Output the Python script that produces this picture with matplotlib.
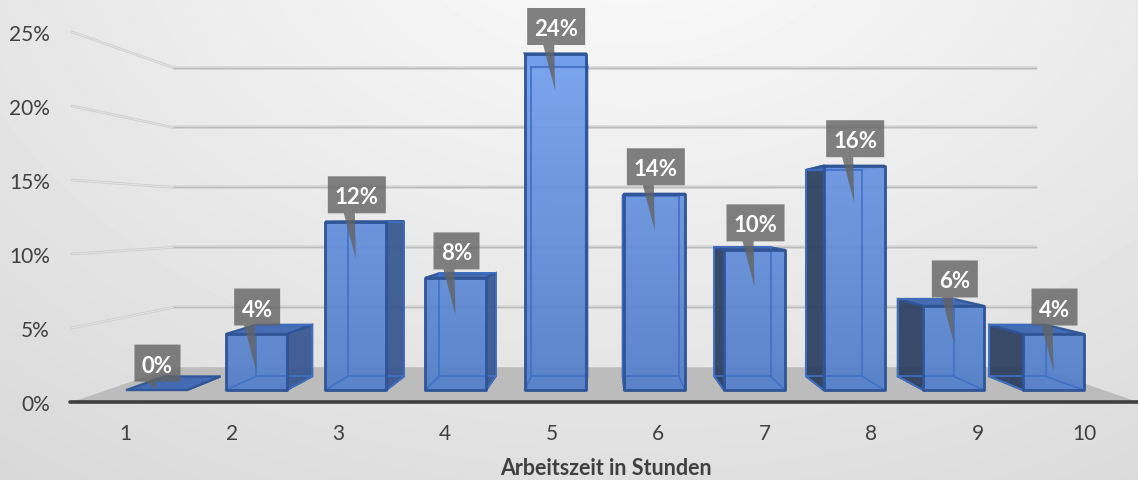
#coding:utf-8

import numpy as np
import matplotlib
matplotlib.use('Agg')
import matplotlib.pyplot as plt
from matplotlib.patches import Polygon

plt.rcParams['font.family'] = ['Lato', 'DejaVu Sans']

categories = ['1', '2', '3', '4', '5', '6', '7', '8', '9', '10']
values = [0, 4, 12, 8, 24, 14, 10, 16, 6, 4]
y_ticks = [0, 5, 10, 15, 20, 25]
x_title = 'Arbeitszeit in Stunden'

# perspective of the 3d scene, in figure pixels
AXIS_LEFT, AXIS_RIGHT, AXIS_Y = 72, 1138, 403
EYE_X, EYE_Y = 605, 220
WALL_UNIT, BAR_UNIT = 14.8, 15.0    # pixels per percent at depth 1
DEPTH_WALL, DEPTH_FRONT, DEPTH_BACK = 0.81, 0.935, 0.86
BAR_HALF = 30.5                     # half bar width on screen

TEXT_COL = '#404040'
EDGE_COL = '#2f5597'
INNER_COL = '#4070c4'


def project(x, height, depth):
    # x in axis pixels, height in pixels above the floor
    return EYE_X + (x - EYE_X) * depth, EYE_Y + (AXIS_Y - EYE_Y - height) * depth


def cat_x(i):
    step = (AXIS_RIGHT - AXIS_LEFT) / len(categories)
    return AXIS_LEFT + step * (i + 0.5)


fig = plt.figure(figsize=(11.38, 4.81), dpi=100)
ax = fig.add_axes([0, 0, 1, 1])

# background
yy, xx = np.mgrid[0:481, 0:1138]
r = np.sqrt(((xx - 630) / 1000.0) ** 2 + ((yy + 100) / 700.0) ** 2)
bg = np.clip(0.989 - 0.135 * r, 0.82, 1)
ax.imshow(bg, cmap='gray', vmin=0, vmax=1, extent=[0, 1138, 481, 0], aspect='auto', zorder=0)

# light from above on the front faces
shade = np.linspace(0, 1, 481)[:, None, None]
top_rgb = np.array([118, 162, 240]) / 255
bottom_rgb = np.array([86, 128, 202]) / 255
front_img = top_rgb * (1 - (shade - 0.1) / 0.7) + bottom_rgb * ((shade - 0.1) / 0.7)
front_img = np.clip(front_img, 0, 1)

# floor
floor = [(AXIS_LEFT, 0, 1), (AXIS_RIGHT, 0, 1), (AXIS_RIGHT, 0, DEPTH_WALL), (AXIS_LEFT, 0, DEPTH_WALL)]
ax.add_patch(Polygon([project(*p) for p in floor], fc='#bcbcbc', ec='none', zorder=1))

# walls
for t in y_ticks:
    h = t * WALL_UNIT
    x0, y0 = project(AXIS_LEFT, h, 1)
    x1, y1 = project(AXIS_LEFT, h, DEPTH_WALL)
    x2, y2 = project(AXIS_RIGHT, h, DEPTH_WALL)
    if t > 0:
        ax.plot([x0, x1], [y0, y1], color='#d0d0d0', lw=2.0, zorder=2, solid_capstyle='round')
        ax.plot([x0, x1], [y0, y1], color='#e6e6e6', lw=0.6, zorder=2)
        ax.plot([x1, x2], [y1, y2], color='#d8d8d8', lw=2.6, zorder=2, solid_capstyle='butt')
        ax.plot([x1, x2], [y1, y2], color='#bdbdbd', lw=1.0, zorder=2, solid_capstyle='butt')
    ax.text(50, y0 + 2, '%d%%' % t, ha='right', va='center', fontsize=15, color=TEXT_COL, zorder=8)

ax.plot([AXIS_LEFT - 2, AXIS_RIGHT], [AXIS_Y, AXIS_Y], color='#3f3f3f', lw=2.6, zorder=3, solid_capstyle='round')

for i, lab in enumerate(categories):
    ax.text(cat_x(i), 434, lab, ha='center', va='center', fontsize=15, color=TEXT_COL, zorder=8)

ax.text(EYE_X + 1, 479, x_title, ha='center', va='bottom', fontsize=15.5, fontweight='bold', color=TEXT_COL, zorder=8)

# bars
for i, v in enumerate(values):
    xc = cat_x(i)
    half = BAR_HALF / DEPTH_FRONT
    h = v * BAR_UNIT
    fl, fr = xc - half, xc + half

    f_bl = project(fl, 0, DEPTH_FRONT)
    f_br = project(fr, 0, DEPTH_FRONT)
    f_tr = project(fr, h, DEPTH_FRONT)
    f_tl = project(fl, h, DEPTH_FRONT)
    b_bl = project(fl, 0, DEPTH_BACK)
    b_br = project(fr, 0, DEPTH_BACK)
    b_tr = project(fr, h, DEPTH_BACK)
    b_tl = project(fl, h, DEPTH_BACK)

    z = 4 + i * 0.01
    if b_tl[0] < f_tl[0] - 1:
        ax.add_patch(Polygon([f_bl, f_tl, b_tl, b_bl], fc='#2a3c5e', ec=EDGE_COL, lw=1.6, alpha=0.92, zorder=z))
    if b_tr[0] > f_tr[0] + 1:
        ax.add_patch(Polygon([f_br, f_tr, b_tr, b_br], fc='#34558f', ec=EDGE_COL, lw=1.6, alpha=0.92, zorder=z))
    ax.add_patch(Polygon([f_tl, f_tr, b_tr, b_tl], fc='#3d66b2', ec=EDGE_COL, lw=1.6, alpha=0.95, zorder=z))

    if v > 0:
        face = Polygon([f_bl, f_br, f_tr, f_tl], fc='none', ec='none', transform=ax.transData)
        ax.add_patch(face)
        img = ax.imshow(front_img, extent=[0, 1138, 481, 0], aspect='auto', alpha=0.95, zorder=z + 0.001)
        img.set_clip_path(face)

        # back edges seen through the front face
        for a, b in [(b_bl, b_br), (b_bl, b_tl), (b_br, b_tr), (b_tl, b_tr), (f_bl, b_bl), (f_br, b_br)]:
            ax.plot([a[0], b[0]], [a[1], b[1]], color=INNER_COL, lw=1.2, zorder=z + 0.002)
        ax.add_patch(Polygon([f_bl, f_br, f_tr, f_tl], fc='none', ec=EDGE_COL, lw=2.0, joinstyle='round', zorder=z + 0.003))

# data label callouts
for i, v in enumerate(values):
    top = project(cat_x(i), v * BAR_UNIT, DEPTH_FRONT)
    base = project(cat_x(i), 0, DEPTH_FRONT)
    txt = '%d%%' % v
    w = 58 if v >= 10 else 46
    cx = top[0] + 1
    y1 = top[1] - 8.5
    y0 = y1 - 37
    tip_y = min(top[1] + 37, base[1] - 2)
    call = [(cx - w / 2, y0), (cx + w / 2, y0), (cx + w / 2, y1), (cx - 2, y1),
            (cx - 1, tip_y), (cx - 13, y1), (cx - w / 2, y1)]
    ax.add_patch(Polygon(call, fc='#636363', ec='none', alpha=0.8, zorder=6))
    ax.text(cx, (y0 + y1) / 2 + 2, txt, ha='center', va='center', fontsize=16, fontweight='bold', color='white', zorder=7)

ax.set_xlim(0, 1138)
ax.set_ylim(481, 0)
ax.axis('off')

fig.savefig('out.png', dpi=100)
